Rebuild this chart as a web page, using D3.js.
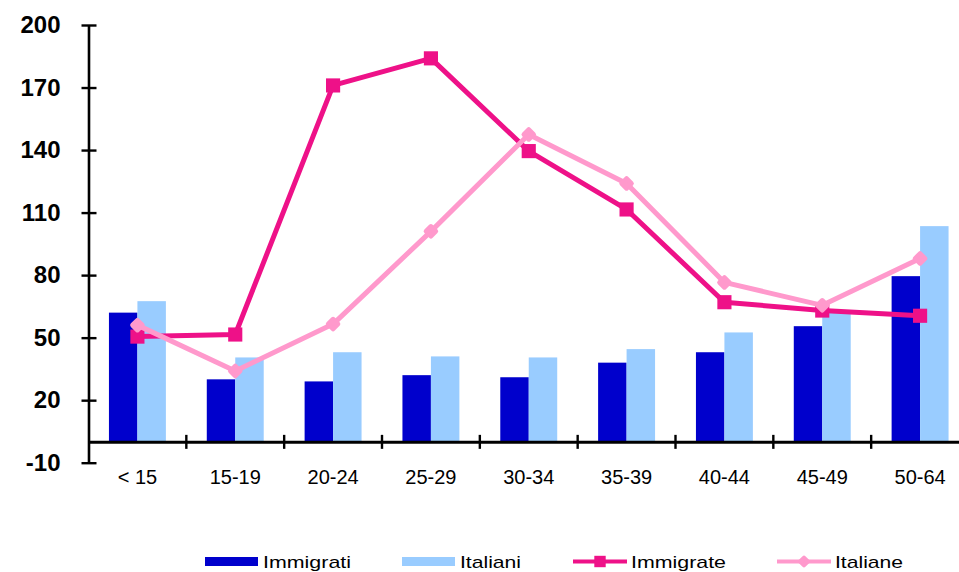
<!DOCTYPE html>
<html>
<head>
<meta charset="utf-8">
<script src="https://cdn.jsdelivr.net/npm/d3@7"></script>
<style>
  body { margin: 0; background: #fff; }
  svg { display: block; font-family: Arial, "Liberation Sans", sans-serif; }
</style>
</head>
<body>
<svg width="959" height="572"></svg>
<script>
// dati
const categories = ["< 15", "15-19", "20-24", "25-29", "30-34", "35-39", "40-44", "45-49", "50-64"];
const immigrati = [62, 30, 29, 32, 31, 38, 43, 55.5, 79.5];
const italiani = [67.5, 40.5, 43, 41, 40.5, 44.5, 52.5, 62, 103.5];
const immigrate = [50.5, 51.5, 171, 184, 139.5, 111.5, 67, 63, 60.5];
const italiane = [56, 34, 56.5, 101, 147.5, 124, 76.5, 65.5, 88];
const yTicks = [-10, 20, 50, 80, 110, 140, 170, 200];

const barSeries = ["Immigrati", "Italiani"];
const lineSeries = ["Immigrate", "Italiane"];

const color = d3.scaleOrdinal()
  .domain(["Immigrati", "Italiani", "Immigrate", "Italiane"])
  .range(["#0000cc", "#99ccff", "#ee1188", "#ff99cc"]);

const svg = d3.select("svg");

// scale
const x0 = d3.scaleBand()
  .domain(categories)
  .range([88.5, 969])
  .padding(0);

const x1 = d3.scaleBand()
  .domain(barSeries)
  .range([x0.bandwidth() * 0.209, x0.bandwidth() * 0.791]);

const y = d3.scaleLinear()
  .domain([-10, 200])
  .range([462.7, 25]);

// asse y (trattino normale per -10)
const yAxis = svg.append("g")
  .attr("transform", "translate(88.5,0)")
  .call(d3.axisLeft(y).tickValues(yTicks).tickFormat(d => String(d)).tickSize(0).tickPadding(28));
yAxis.select(".domain").attr("stroke", "#000").attr("stroke-width", 2.6);
yAxis.selectAll(".tick text")
  .attr("fill", "#000")
  .style("font-size", "24px")
  .style("font-weight", "bold");
yAxis.selectAll(".tick").append("line")
  .attr("x1", -7).attr("x2", 8)
  .attr("stroke", "#000").attr("stroke-width", 2.4);

// barre
const groups = svg.selectAll(".bar-group")
  .data(categories.map((c, i) => ({ cat: c, Immigrati: immigrati[i], Italiani: italiani[i] })))
  .enter()
  .append("g")
  .attr("class", "bar-group")
  .attr("transform", d => `translate(${x0(d.cat)},0)`);

groups.selectAll("rect")
  .data(d => barSeries.map(key => ({ key, value: d[key] })))
  .enter()
  .append("rect")
  .attr("x", d => x1(d.key))
  .attr("y", d => y(d.value))
  .attr("width", x1.bandwidth())
  .attr("height", d => y(0) - y(d.value))
  .attr("fill", d => color(d.key));

// asse x sullo zero
const xAxis = svg.append("g")
  .attr("transform", `translate(0,${y(0)})`)
  .call(d3.axisBottom(x0).tickSize(0).tickPadding(0));
xAxis.select(".domain").attr("stroke", "#000").attr("stroke-width", 3);
xAxis.selectAll(".tick text")
  .attr("fill", "#000")
  .attr("y", 28)
  .style("font-size", "20px");

// tacche tra le categorie
svg.append("g")
  .selectAll("line")
  .data(categories.slice(1))
  .enter()
  .append("line")
  .attr("x1", d => x0(d))
  .attr("x2", d => x0(d))
  .attr("y1", y(0) - 7)
  .attr("y2", y(0) + 7)
  .attr("stroke", "#000")
  .attr("stroke-width", 2.4);

// linee
const cx = c => x0(c) + x0.bandwidth() / 2;
const line = d3.line()
  .x(d => cx(d.cat))
  .y(d => y(d.value));

const lineData = {
  Immigrate: categories.map((c, i) => ({ cat: c, value: immigrate[i] })),
  Italiane: categories.map((c, i) => ({ cat: c, value: italiane[i] }))
};

// rombo regolare = quadrato ruotato
const markerPath = (key, big) => key === "Immigrate"
  ? d3.symbol().type(d3.symbolSquare).size(big ? 200 : 130)()
  : d3.symbol().type(d3.symbolSquare).size(big ? 45 : 30)();
const markerRot = key => key === "Italiane" ? " rotate(45)" : "";

lineSeries.forEach(key => {
  svg.append("path")
    .datum(lineData[key])
    .attr("fill", "none")
    .attr("stroke", color(key))
    .attr("stroke-width", 5)
    .attr("stroke-linejoin", "round")
    .attr("d", line);
  svg.append("g")
    .selectAll("path")
    .data(lineData[key])
    .enter()
    .append("path")
    .attr("transform", d => `translate(${cx(d.cat)},${y(d.value)})${markerRot(key)}`)
    .attr("d", markerPath(key, true))
    .attr("fill", color(key))
    .attr("stroke", color(key))
    .attr("stroke-linejoin", "round")
    .attr("stroke-width", key === "Italiane" ? 5 : 0);
});

// legenda
const legendItems = [
  { key: "Immigrati", type: "bar", x: 205, tw: 88 },
  { key: "Italiani", type: "bar", x: 402, tw: 61 },
  { key: "Immigrate", type: "line", x: 573, tw: 95 },
  { key: "Italiane", type: "line", x: 777, tw: 68 }
];
const legend = svg.append("g").attr("transform", "translate(0,561.5)");
legendItems.forEach(it => {
  const g = legend.append("g").attr("transform", `translate(${it.x},0)`);
  if (it.type === "bar") {
    g.append("rect")
      .attr("x", 0).attr("y", -4.5)
      .attr("width", 53).attr("height", 9)
      .attr("fill", color(it.key));
  } else {
    g.append("line")
      .attr("x1", 0).attr("x2", 54)
      .attr("stroke", color(it.key)).attr("stroke-width", 4);
    g.append("path")
      .attr("transform", `translate(27,0)${markerRot(it.key)}`)
      .attr("d", markerPath(it.key, false))
      .attr("fill", color(it.key))
      .attr("stroke", color(it.key))
      .attr("stroke-linejoin", "round")
      .attr("stroke-width", it.key === "Italiane" ? 4 : 0);
  }
  g.append("text")
    .attr("x", 58)
    .attr("y", 6)
    .attr("textLength", it.tw)
    .attr("lengthAdjust", "spacingAndGlyphs")
    .style("font-size", "17px")
    .text(it.key);
});
</script>
</body>
</html>
